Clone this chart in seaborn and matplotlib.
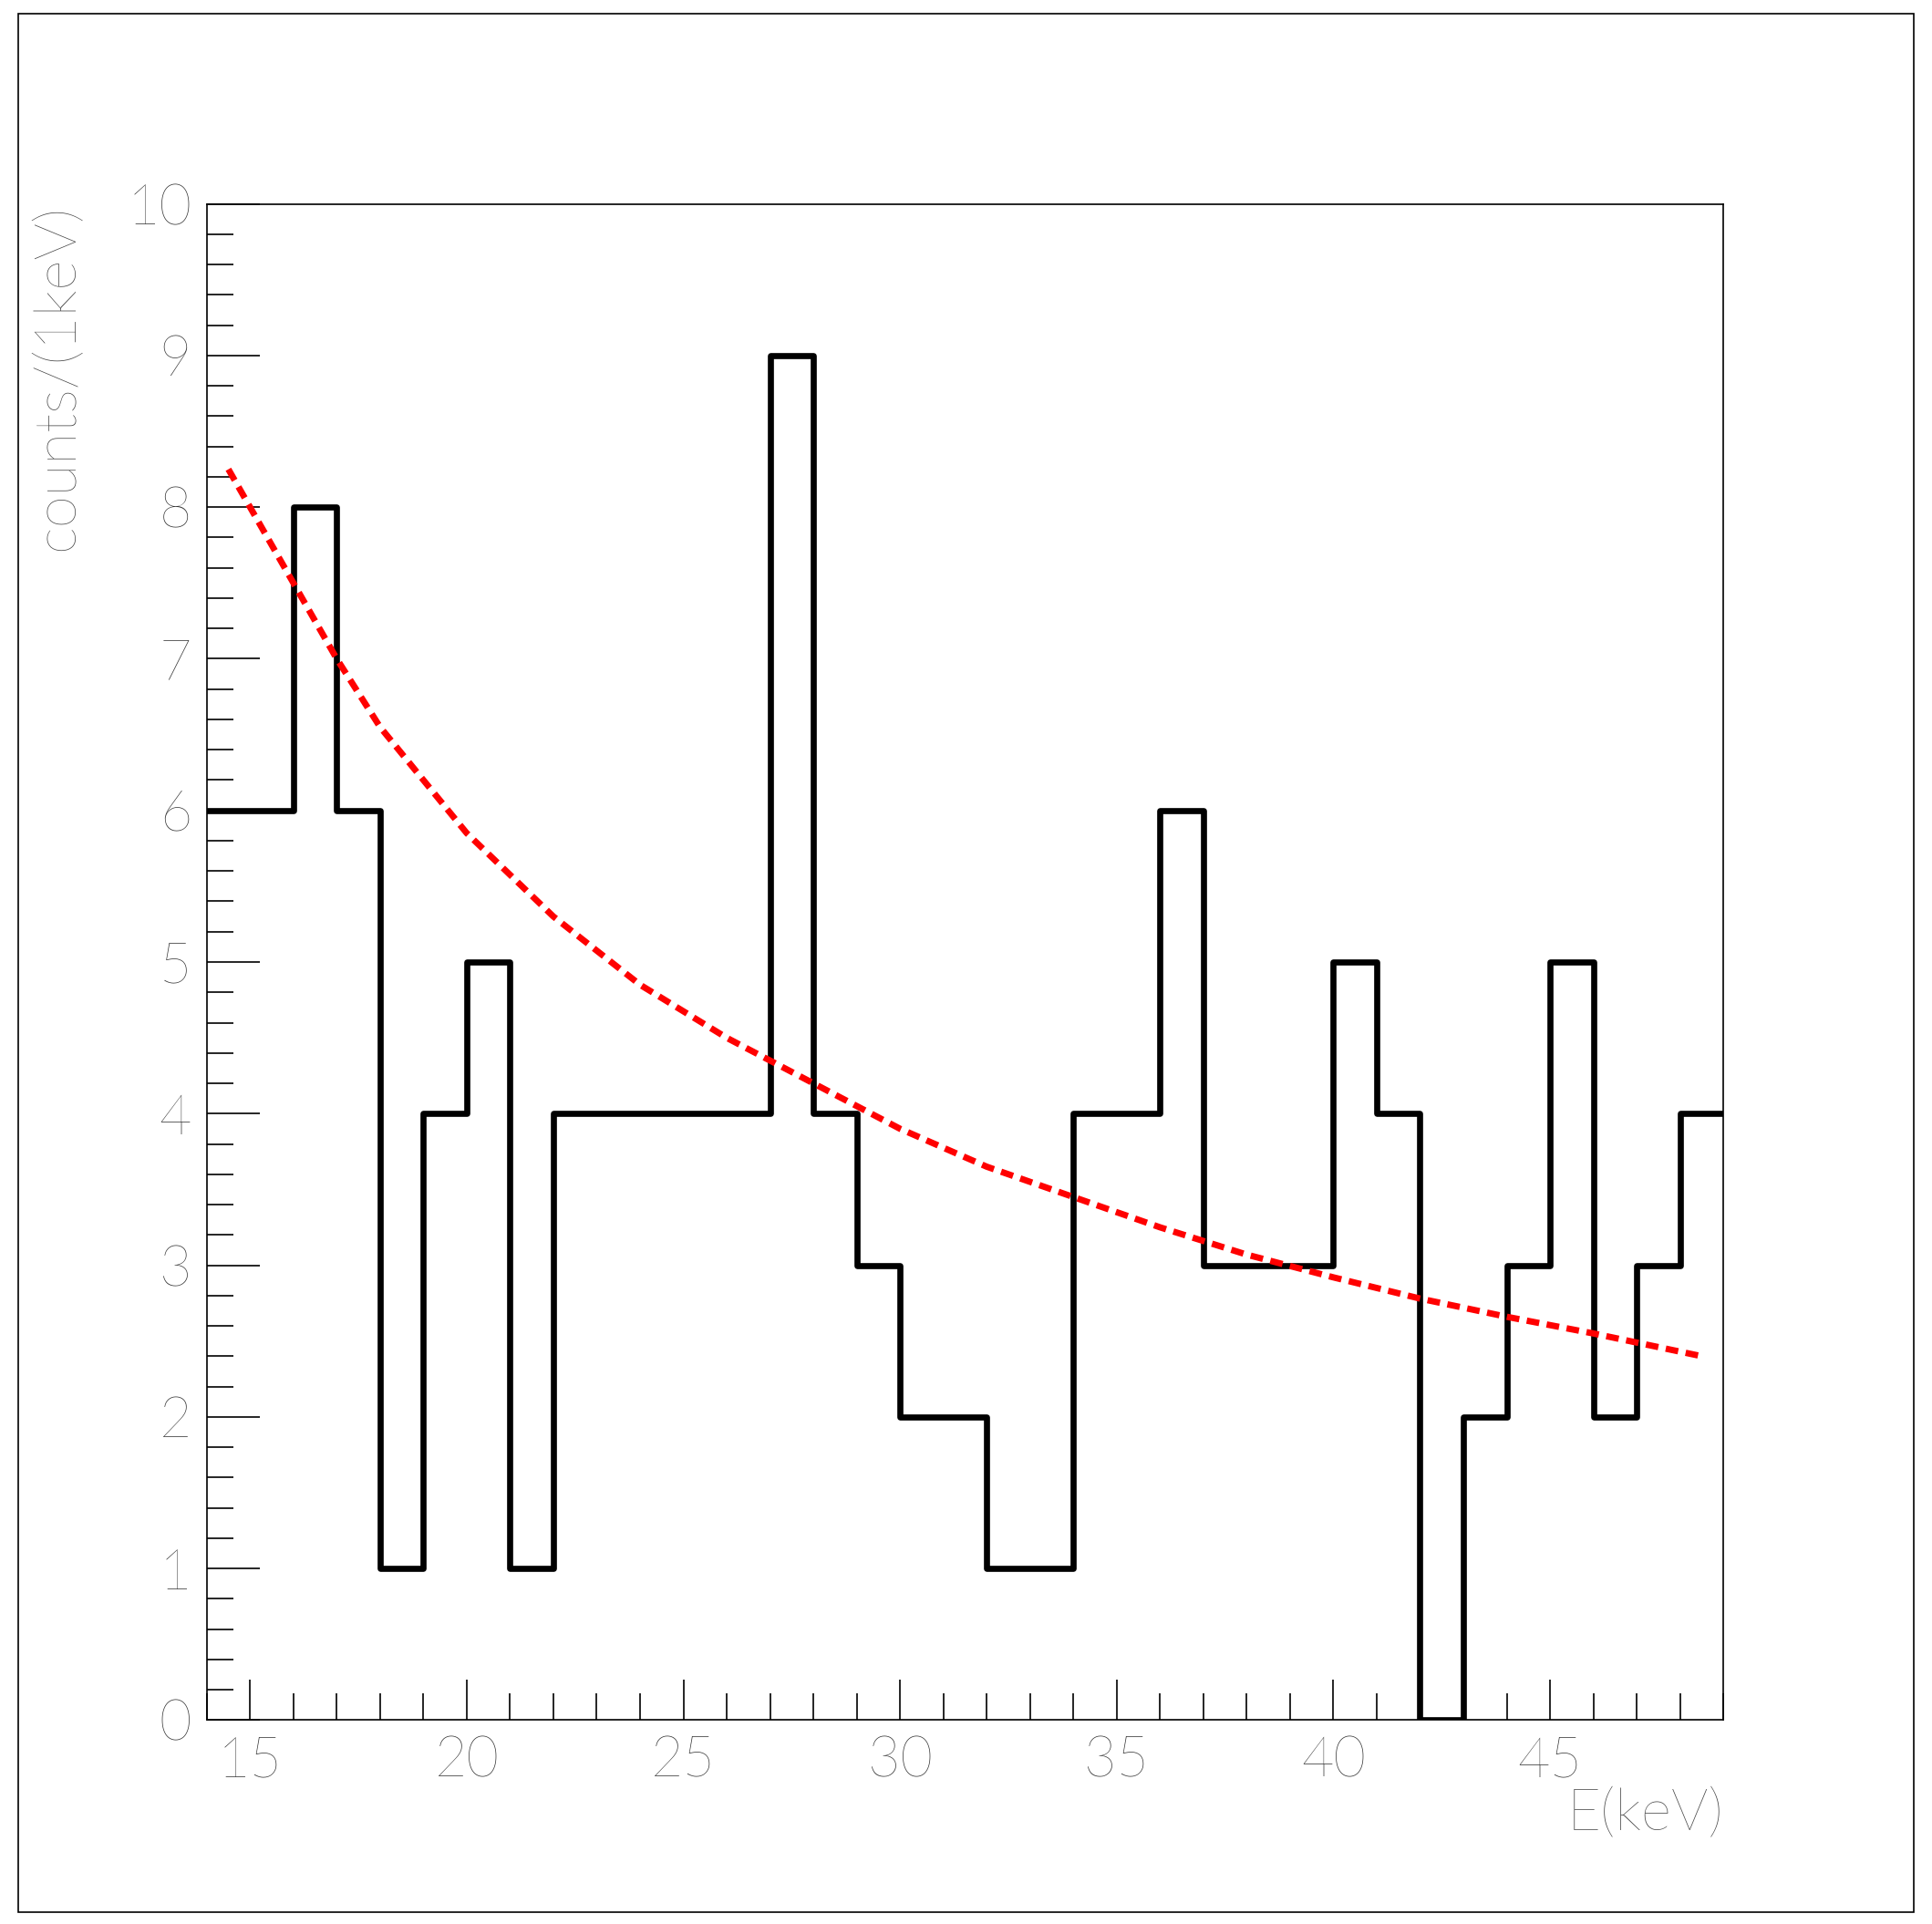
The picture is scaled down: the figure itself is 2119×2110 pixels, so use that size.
import numpy as np
import pandas as pd
import matplotlib
matplotlib.use("Agg")
import matplotlib.pyplot as plt
import seaborn as sns
from matplotlib.ticker import MultipleLocator
from matplotlib.patches import Rectangle

# histogram: 1 keV bins from 14 to 49
bin_edges = list(range(14, 50))
counts = [6, 6, 8, 6, 1, 4, 5, 1, 4, 4, 4, 4, 4, 9, 4, 3, 2, 2, 1, 1,
          4, 4, 6, 3, 3, 3, 5, 4, 0, 2, 3, 5, 2, 3, 4]
# fit curve
fit_x = [14.5, 16, 17, 18, 20, 22, 24, 26, 28, 30, 32, 34, 36, 38, 40, 42, 44, 46, 48.5]
fit_y = [8.25, 7.5, 7.0, 6.55, 5.85, 5.3, 4.85, 4.5, 4.2, 3.9, 3.65, 3.45, 3.25, 3.07, 2.92, 2.78, 2.66, 2.55, 2.4]

sns.set_style("white")
plt.rcParams['font.family'] = ['Lato', 'DejaVu Sans']

fig = plt.figure(figsize=(21.19, 21.10), dpi=100)
ax = fig.add_axes([0.107, 0.106, 0.785, 0.788])

df = pd.DataFrame({"E": [e + 0.5 for e in bin_edges[:-1]], "w": counts})
sns.histplot(data=df, x="E", weights="w", bins=bin_edges, element="step",
             fill=False, color="black", linewidth=4.8, ax=ax)
sns.lineplot(x=fit_x, y=fit_y, color="red", linewidth=5, linestyle=(0, (2, 1.2)), ax=ax)

ax.set_xlim(14, 49)
ax.set_ylim(0, 10)
ax.set_xlabel("")
ax.set_ylabel("")
for s in ax.spines.values():
    s.set_linewidth(1.2)
    s.set_color("black")
ax.xaxis.set_major_locator(MultipleLocator(5))
ax.xaxis.set_minor_locator(MultipleLocator(1))
ax.yaxis.set_major_locator(MultipleLocator(1))
ax.yaxis.set_minor_locator(MultipleLocator(0.2))
ax.tick_params(which="both", direction="in", top=False, right=False,
               left=True, bottom=True, colors="black", labelcolor="#333333")
ax.tick_params(which="major", length=42, width=1.2, labelsize=44, pad=12)
ax.tick_params(axis="x", which="major", length=32)
ax.tick_params(which="minor", length=21, width=1.2)
for lab in ax.get_xticklabels() + ax.get_yticklabels():
    lab.set_fontweight("light")

fig.text(0.892, 0.043, "E(keV)", ha="right", va="bottom", fontsize=46,
         color="#444444", fontweight="light")
fig.text(0.03, 0.894, "counts/(1keV)", ha="center", va="top", rotation=90,
         fontsize=46, color="#444444", fontweight="light")

fig.patches.append(Rectangle((0.0095, 0.006), 0.981, 0.987, transform=fig.transFigure,
                             fill=False, edgecolor="black", linewidth=1.2))

fig.savefig("out.png", dpi=100, facecolor="white")
